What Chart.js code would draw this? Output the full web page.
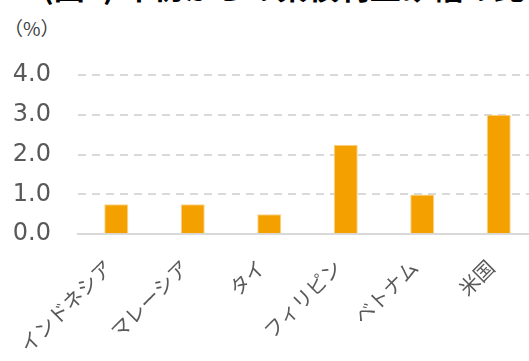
<!DOCTYPE html>
<html>
<head>
<meta charset="utf-8">
<script src="https://cdn.jsdelivr.net/npm/chart.js@4"></script>
<style>
  html, body { margin: 0; padding: 0; background: #fff; overflow: hidden; width: 529px; height: 361px; }
  #title { position: absolute; left: 4px; top: -37px; font: bold 31px "Noto Sans CJK JP", sans-serif; color: #000; white-space: nowrap; }
  #unit { position: absolute; left: 4px; top: 14px; font: 19px "Noto Sans CJK JP", sans-serif; color: #404040; }
  #wrap { position: absolute; left: 0; top: 0; width: 537px; height: 378px; }
</style>
</head>
<body>
<div id="title">■ (図5) 年初からの累積利上げ幅の比較</div>
<div id="unit">（%）</div>
<div id="wrap"><canvas id="rate-chart"></canvas></div>
<script>
const countries = ['インドネシア', 'マレーシア', 'タイ', 'フィリピン', 'ベトナム', '米国'];
const hikes = [0.75, 0.75, 0.5, 2.25, 1.0, 3.0];
const yTicks = [0, 1, 2, 3, 4];

const ctx = document.getElementById('rate-chart');
const chart = new Chart(ctx, {
  type: 'bar',
  data: {
    labels: countries,
    datasets: [{
      label: '利上げ幅',
      data: hikes,
      backgroundColor: '#F4A100',
      borderColor: '#FBD38D',
      borderWidth: 1,
      barPercentage: 0.314,
      categoryPercentage: 1
    }]
  },
  options: {
    responsive: true,
    maintainAspectRatio: false,
    animation: false,
    layout: { padding: { top: 75, left: 0, right: 0, bottom: 0 } },
    plugins: { legend: { display: false }, tooltip: { enabled: false } },
    scales: {
      x: {
        grid: { display: false, drawTicks: false },
        border: { color: '#D9D9D9', width: 2 },
        afterFit: axis => { axis.paddingLeft = 0; axis.paddingRight = 0; },
        ticks: {
          color: '#595959',
          font: { family: '"Noto Sans CJK JP", sans-serif', size: 20 },
          minRotation: 45,
          maxRotation: 45,
          autoSkip: false,
          padding: 21,
          labelOffset: -8
        }
      },
      y: {
        min: 0,
        max: 4,
        afterBuildTicks: axis => { axis.ticks = yTicks.map(v => ({ value: v })); },
        afterFit: axis => { axis.width = 78; },
        grid: { color: '#D9D9D9', lineWidth: 2, drawTicks: false },
        border: { display: false, dash: [8, 6] },
        ticks: {
          color: '#595959',
          font: { family: 'Verdana, "DejaVu Sans", sans-serif', size: 24 },
          padding: 27,
          callback: v => v.toFixed(1)
        }
      }
    }
  }
});
</script>
</body>
</html>
